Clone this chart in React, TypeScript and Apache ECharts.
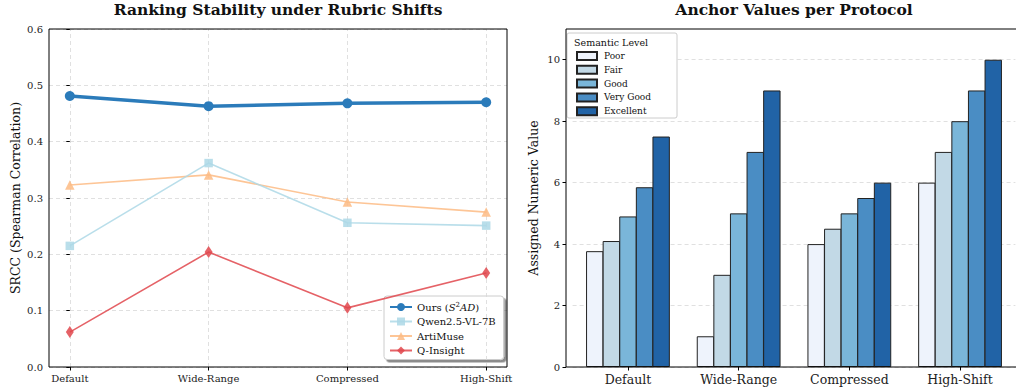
import React, { useEffect, useRef } from "react";
import * as echarts from "echarts";

const categories = ["Default", "Wide-Range", "Compressed", "High-Shift"];
const lineNames = ["Ours", "Qwen2.5-VL-7B", "ArtiMuse", "Q-Insight"];
const oursSrcc = [0.481, 0.463, 0.468, 0.47];
const qwenSrcc = [0.215, 0.362, 0.256, 0.251];
const artimuseSrcc = [0.323, 0.341, 0.293, 0.275];
const qinsightSrcc = [0.062, 0.204, 0.105, 0.167];

const levels = ["Poor", "Fair", "Good", "Very Good", "Excellent"];
const poorVals = [3.77, 1, 4, 6];
const fairVals = [4.1, 3, 4.5, 7];
const goodVals = [4.9, 5, 5, 8];
const veryGoodVals = [5.85, 7, 5.5, 9];
const excellentVals = [7.5, 9, 6, 10];
const anchorTicks = [0, 2, 4, 6, 8, 10];

const FONT = "DejaVu Serif";

export default function App() {
  const ref = useRef<HTMLDivElement>(null);
  useEffect(() => {
    if (!ref.current) return;
    const chart = echarts.init(ref.current, null, { renderer: "svg" });
    const toPts = (arr: number[]) => arr.map((v, i) => [i, v]);
    const lineColors = ["#2b7bba", "#add8e6", "#fdbb84", "#e0474c"];
    const lineData = [oursSrcc, qwenSrcc, artimuseSrcc, qinsightSrcc];
    const symbols = ["circle", "rect", "triangle", "diamond"];
    const symSizes: any[] = [10, 8.5, 9.5, [8, 12]];
    const barColors = ["#eef3fc", "#c2d9e6", "#7ab6d9", "#4a8dc4", "#2163a6"];
    const barData = [poorVals, fairVals, goodVals, veryGoodVals, excellentVals];

    const lineSeries: any[] = lineNames.map((n, i) => ({
      name: n,
      type: "line",
      xAxisIndex: 0,
      yAxisIndex: 0,
      data: toPts(lineData[i]),
      symbol: symbols[i],
      symbolSize: symSizes[i],
      showSymbol: true,
      z: 10 - i,
      lineStyle: { color: lineColors[i], width: i === 0 ? 3.5 : 1.6, opacity: i === 0 ? 1 : 0.85 },
      itemStyle: { color: lineColors[i], opacity: i === 0 ? 1 : 0.85 },
    }));

    const gridSeries = {
      type: "line",
      xAxisIndex: 0,
      yAxisIndex: 0,
      data: [],
      silent: true,
      z: 1,
      markLine: {
        silent: true,
        symbol: "none",
        label: { show: false },
        lineStyle: { color: "#d8d8d8", type: [4, 3], width: 0.8 },
        data: categories.map((_, i) => ({ xAxis: i })),
      },
    };

    const barSeries: any[] = levels.map((n, i) => ({
      name: n,
      type: "bar",
      xAxisIndex: 1,
      yAxisIndex: 1,
      data: barData[i],
      barWidth: 17.4,
      barGap: "-4.6%",
      itemStyle: { color: barColors[i], borderColor: "#222", borderWidth: 1 },
    }));

    const tickLabel = { fontFamily: FONT, fontSize: 10, color: "#222" };

    chart.setOption({
      animation: false,
      textStyle: { fontFamily: FONT },
      title: [
        {
          text: "Ranking Stability under Rubric Shifts",
          left: 278,
          top: 1,
          padding: 0,
          textAlign: "center",
          textStyle: { fontFamily: FONT, fontWeight: "bold", fontSize: 15.5, color: "#111" },
        },
        {
          text: "Anchor Values per Protocol",
          left: 794,
          top: 1,
          padding: 0,
          textAlign: "center",
          textStyle: { fontFamily: FONT, fontWeight: "bold", fontSize: 15.5, color: "#111" },
        },
      ],
      grid: [
        { left: 49, top: 29, width: 458, height: 338 },
        { left: 572.6, top: 29, width: 442.8, height: 338 },
      ],
      xAxis: [
        {
          type: "value",
          gridIndex: 0,
          min: -0.15,
          max: 3.15,
          axisLine: { show: false },
          splitLine: { show: false },
          axisTick: { show: true, customValues: [0, 1, 2, 3], length: 3.5, lineStyle: { color: "#000" } },
          axisLabel: {
            ...tickLabel,
            customValues: [0, 1, 2, 3],
            formatter: (v: number) => categories[Math.round(v)] ?? "",
            margin: 6,
          },
        },
        {
          type: "category",
          gridIndex: 1,
          data: categories,
          axisLine: { show: false },
          axisTick: { show: true, alignWithLabel: true, length: 3.5, lineStyle: { color: "#000" } },
          axisLabel: { ...tickLabel, fontSize: 12.5, margin: 6 },
        },
      ],
      yAxis: [
        {
          type: "value",
          gridIndex: 0,
          min: 0,
          max: 0.6,
          interval: 0.1,
          name: "SRCC (Spearman Correlation)",
          nameLocation: "middle",
          nameGap: 27,
          nameTextStyle: { fontFamily: FONT, fontSize: 12.5, color: "#111" },
          axisLine: { show: false },
          axisTick: { show: true, length: 3.5, lineStyle: { color: "#000" } },
          axisLabel: { ...tickLabel, formatter: (v: number) => v.toFixed(1), margin: 6 },
          splitLine: { show: true, lineStyle: { color: "#d8d8d8", type: [4, 3], width: 0.8 } },
        },
        {
          type: "value",
          gridIndex: 1,
          min: 0,
          max: 11,
          offset: 6.6,
          name: "Assigned Numeric Value",
          nameLocation: "middle",
          nameGap: 26,
          nameTextStyle: { fontFamily: FONT, fontSize: 12.5, color: "#111" },
          axisLine: { show: false },
          axisTick: { show: true, customValues: anchorTicks, length: 3.5, lineStyle: { color: "#000" } },
          axisLabel: { ...tickLabel, customValues: anchorTicks, margin: 6 },
          splitLine: { show: true, lineStyle: { color: "#d8d8d8", type: [4, 3], width: 0.8 } },
        },
      ],
      legend: [
        {
          data: lineNames,
          orient: "vertical",
          left: 384,
          top: 296,
          padding: [5, 8, 4, 5],
          itemGap: 4.5,
          itemWidth: 22,
          itemHeight: 10,
          backgroundColor: "#fff",
          borderColor: "#ccc",
          borderWidth: 1,
          borderRadius: 3,
          shadowColor: "rgba(0,0,0,0.45)",
          shadowOffsetX: 2.5,
          shadowOffsetY: 2.5,
          shadowBlur: 0,
          formatter: (n: string) =>
            n === "Ours" ? "Ours ({i|S}{s|2}{i|AD})" : n,
          textStyle: {
            fontFamily: FONT,
            fontSize: 10,
            color: "#111",
            rich: {
              i: { fontFamily: FONT, fontStyle: "italic", fontSize: 10, color: "#111" },
              s: { fontFamily: FONT, fontSize: 7, color: "#111", verticalAlign: "top", padding: [0, 0, 5, 0] },
            },
          },
        },
        {
          data: levels,
          orient: "vertical",
          left: 576,
          top: 51,
          padding: 0,
          itemGap: 3.8,
          itemWidth: 20,
          itemHeight: 8,
          icon: "rect",
          textStyle: { fontFamily: FONT, fontSize: 9, color: "#111", padding: [0, 0, 0, 2] },
          z: 6,
        },
      ],
      graphic: [
        {
          type: "rect",
          z: 5,
          shape: { x: 567, y: 33, width: 110, height: 85, r: 2 },
          style: { fill: "#fff", stroke: "#ccc", lineWidth: 1 },
        },
        {
          type: "text",
          z: 6,
          x: 574,
          y: 37,
          style: { text: "Semantic Level", fontFamily: FONT, fontSize: 9.5, fill: "#111" },
        },
        {
          type: "rect",
          z: 20,
          silent: true,
          shape: { x: 49, y: 29, width: 458, height: 338 },
          style: { fill: "none", stroke: "#000", lineWidth: 1 },
        },
        {
          type: "rect",
          z: 20,
          silent: true,
          shape: { x: 566, y: 29, width: 470, height: 338 },
          style: { fill: "none", stroke: "#000", lineWidth: 1 },
        },
      ],
      series: [gridSeries, ...lineSeries, ...barSeries],
    });
    return () => chart.dispose();
  }, []);
  return (
    <div
      ref={ref}
      style={{ position: "fixed", left: 0, top: 0, width: 1016, height: 392, background: "#fff" }}
    />
  );
}
